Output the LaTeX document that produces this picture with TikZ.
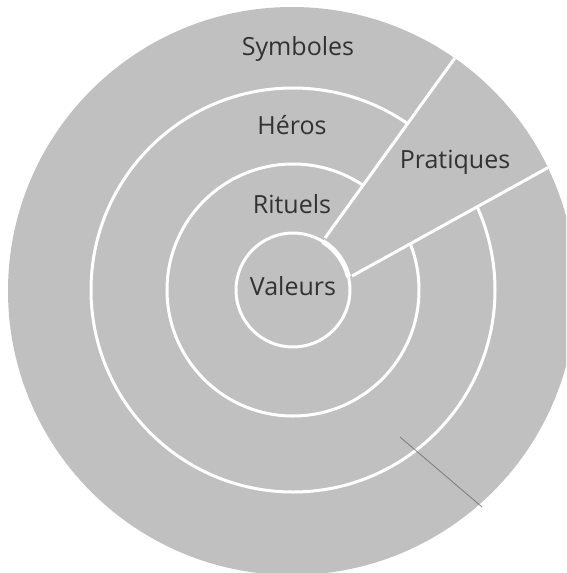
\documentclass[tikz,border=0pt]{standalone}
\usepackage{fontspec}
\setmainfont{Open Sans}
\definecolor{disc}{RGB}{192,192,192}
\definecolor{ink}{RGB}{50,50,50}
\tikzset{
  ring/.style={draw=white, line width=3pt},
  divider/.style={draw=white, line width=3pt},
  lbl/.style={text=ink, font=\fontsize{25}{28}\selectfont, inner sep=0pt},
}
\begin{document}
\begin{tikzpicture}[x=1pt,y=-1pt]
\useasboundingbox (0,0) rectangle (566,573);
\begin{scope}
\clip (0,0) rectangle (566,573);
\coordinate (C) at (293,290);
\coordinate (O) at (292,291);
\fill[disc] (O) circle[radius=284];
\draw[ring] (C) circle[radius=202];
\draw[ring] (C) circle[radius=126];
% wedge of Pratiques covers the arcs
\begin{scope}
\clip (O) circle[radius=284];
\coordinate (a1) at (325,238);
\coordinate (b1) at (460,51);
\coordinate (a2) at (352,276);
\coordinate (b2) at (560,161);
\fill[disc] (a1) -- (b1) -- (620,0) -- (620,150) -- (b2) -- (a2) -- cycle;
\draw[divider] (a1) -- (b1);
\draw[divider] (a2) -- (b2);
\end{scope}
\draw[ring] (C) circle[radius=57];
\draw[white, line width=5pt] ([shift={(C)}]-58.4:57) arc[start angle=-58.4, end angle=-13.3, radius=57];
% stray scan mark
\coordinate (s1) at (400,437);
\coordinate (s2) at (482,507);
\draw[gray!80!black, line width=0.9pt, opacity=0.7] (s1) -- (s2);
\end{scope}
\node[lbl] (sym) at (298,49) {Symboles};
\node[lbl] (her) at (292,125) {Héros};
\node[lbl] (pra) at (455,162) {Pratiques};
\node[lbl] (rit) at (292,204) {Rituels};
\node[lbl] (val) at (293,286) {Valeurs};
\end{tikzpicture}
\end{document}
